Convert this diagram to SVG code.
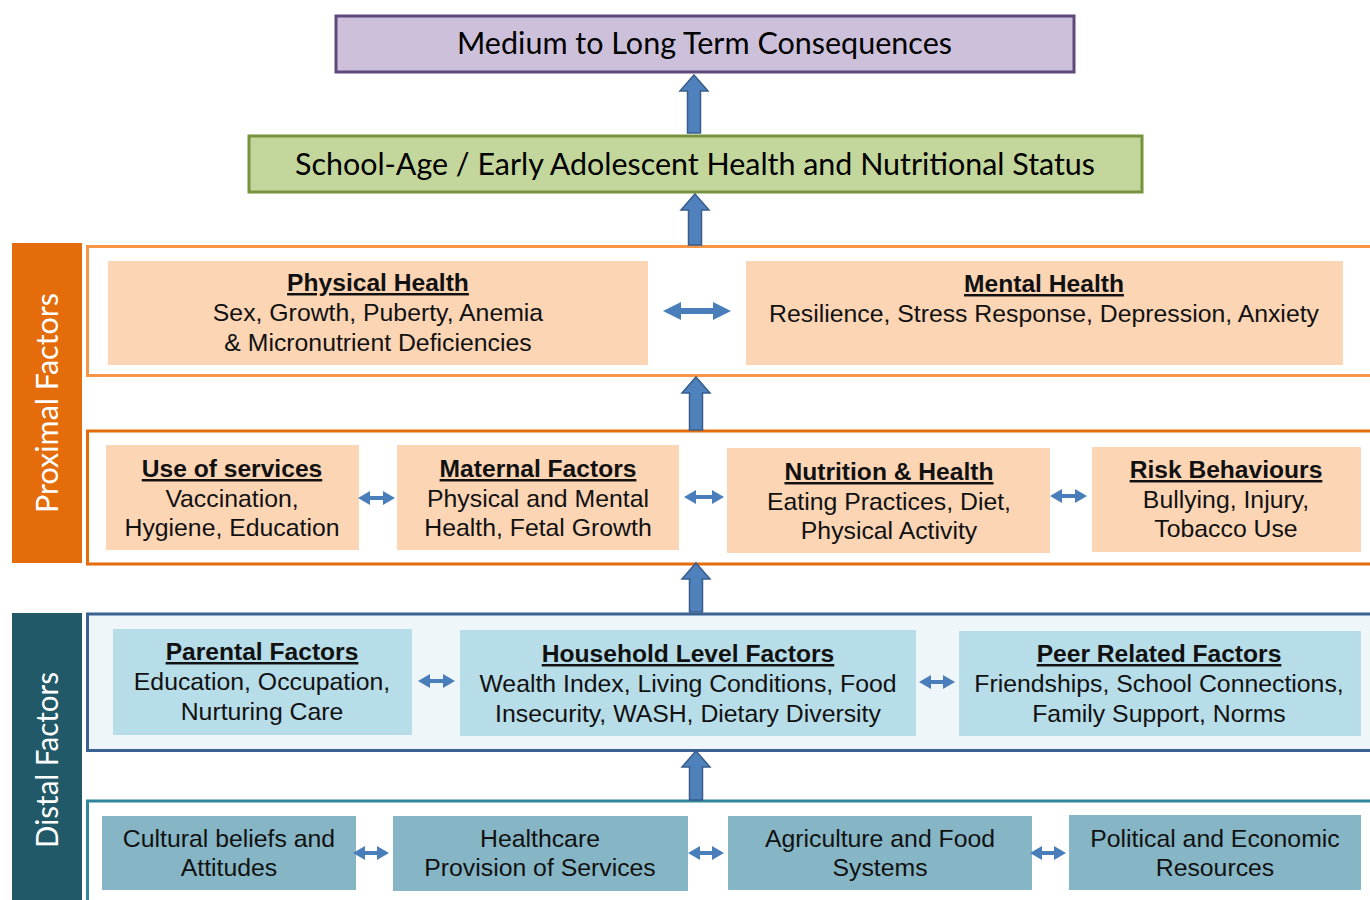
<svg xmlns="http://www.w3.org/2000/svg" width="1370" height="900" viewBox="0 0 1370 900">
<defs>
<style>
.cal{font-family:Lato,"Open Sans","Liberation Sans",sans-serif;font-size:31px;fill:#000;text-anchor:middle}
.side{font-family:Lato,"Open Sans","Liberation Sans",sans-serif;font-size:31px;fill:#fff;text-anchor:middle}
.t{font-family:"Liberation Sans",Arial,sans-serif;font-size:24.8px;fill:#111;text-anchor:middle}
.h{font-family:"Liberation Sans",Arial,sans-serif;font-size:24.6px;font-weight:bold;fill:#111;text-anchor:middle;text-decoration:underline}
.peach{fill:#fcd5b5}
.lblue{fill:#b7dde8}
.teal{fill:#86b6c5}
.up{fill:#4f81bd;stroke:#385d8a;stroke-width:1.5}
.dbl{fill:#4a7ebb}
</style>
</defs>
<rect width="1370" height="900" fill="#ffffff"/>

<!-- side bars -->
<g id="proximal-label">
<rect x="12" y="243" width="70" height="320" fill="#e46c0a"/>
<text class="side" transform="translate(58,403) rotate(-90)" textLength="220" lengthAdjust="spacingAndGlyphs">Proximal Factors</text>
</g>
<g id="distal-label">
<rect x="12" y="613" width="70" height="300" fill="#215968"/>
<text class="side" transform="translate(58,760) rotate(-90)" textLength="176" lengthAdjust="spacingAndGlyphs">Distal Factors</text>
</g>

<!-- top nodes -->
<g id="consequences">
<rect x="336" y="16" width="738" height="56" fill="#ccc0da" stroke="#5f497a" stroke-width="3"/>
<text class="cal" x="704.5" y="54" textLength="495" lengthAdjust="spacingAndGlyphs">Medium to Long Term Consequences</text>
</g>
<g id="status">
<rect x="249" y="136" width="893" height="56" fill="#c3d69b" stroke="#77933c" stroke-width="3"/>
<text class="cal" x="695" y="175" textLength="800" lengthAdjust="spacingAndGlyphs">School-Age / Early Adolescent Health and Nutritional Status</text>
</g>

<!-- group containers -->
<g id="proximal-top">
<rect x="87.5" y="246.5" width="1300" height="129" fill="#ffffff" stroke="#f79646" stroke-width="3"/>
</g>
<g id="proximal-bottom">
<rect x="87.5" y="431" width="1300" height="133" fill="#ffffff" stroke="#e46c0a" stroke-width="3"/>
</g>
<g id="distal-top">
<rect x="87.5" y="614" width="1300" height="136.5" fill="#eef6f9" stroke="#3b6292" stroke-width="3"/>
</g>
<g id="distal-bottom">
<rect x="87.5" y="801" width="1300" height="130" fill="#ffffff" stroke="#31859c" stroke-width="3"/>
</g>

<!-- proximal top nodes -->
<g id="physical-health">
<rect class="peach" x="108" y="261" width="540" height="104"/>
<text class="h" x="378" y="291">Physical Health</text>
<text class="t" x="378" y="321">Sex, Growth, Puberty, Anemia</text>
<text class="t" x="378" y="351">&amp; Micronutrient Deficiencies</text>
</g>
<g id="mental-health">
<rect class="peach" x="746" y="261" width="597" height="104"/>
<text class="h" x="1044" y="292">Mental Health</text>
<text class="t" x="1044" y="322">Resilience, Stress Response, Depression, Anxiety</text>
</g>

<!-- proximal bottom nodes -->
<g id="use-of-services">
<rect class="peach" x="106" y="445" width="253" height="105"/>
<text class="h" x="232" y="477">Use of services</text>
<text class="t" x="232" y="507">Vaccination,</text>
<text class="t" x="232" y="536">Hygiene, Education</text>
</g>
<g id="maternal-factors">
<rect class="peach" x="397" y="445" width="282" height="105"/>
<text class="h" x="538" y="477">Maternal Factors</text>
<text class="t" x="538" y="507">Physical and Mental</text>
<text class="t" x="538" y="536">Health, Fetal Growth</text>
</g>
<g id="nutrition-health">
<rect class="peach" x="727" y="448" width="323" height="105"/>
<text class="h" x="889" y="480">Nutrition &amp; Health</text>
<text class="t" x="889" y="510">Eating Practices, Diet,</text>
<text class="t" x="889" y="539">Physical Activity</text>
</g>
<g id="risk-behaviours">
<rect class="peach" x="1092" y="447" width="269" height="105"/>
<text class="h" x="1226" y="478">Risk Behaviours</text>
<text class="t" x="1226" y="508">Bullying, Injury,</text>
<text class="t" x="1226" y="537">Tobacco Use</text>
</g>

<!-- distal top nodes -->
<g id="parental-factors">
<rect class="lblue" x="113" y="629" width="299" height="106"/>
<text class="h" x="262" y="660">Parental Factors</text>
<text class="t" x="262" y="690">Education, Occupation,</text>
<text class="t" x="262" y="720">Nurturing Care</text>
</g>
<g id="household-factors">
<rect class="lblue" x="460" y="630" width="456" height="106"/>
<text class="h" x="688" y="662">Household Level Factors</text>
<text class="t" x="688" y="692">Wealth Index, Living Conditions, Food</text>
<text class="t" x="688" y="722">Insecurity, WASH, Dietary Diversity</text>
</g>
<g id="peer-factors">
<rect class="lblue" x="959" y="631" width="402" height="105"/>
<text class="h" x="1159" y="662">Peer Related Factors</text>
<text class="t" x="1159" y="692">Friendships, School Connections,</text>
<text class="t" x="1159" y="722">Family Support, Norms</text>
</g>

<!-- distal bottom nodes -->
<g id="cultural-beliefs">
<rect class="teal" x="102" y="816" width="254" height="74"/>
<text class="t" x="229" y="847">Cultural beliefs and</text>
<text class="t" x="229" y="876">Attitudes</text>
</g>
<g id="healthcare">
<rect class="teal" x="393" y="816" width="295" height="75"/>
<text class="t" x="540" y="847">Healthcare</text>
<text class="t" x="540" y="876">Provision of Services</text>
</g>
<g id="agriculture">
<rect class="teal" x="728" y="816" width="304" height="74"/>
<text class="t" x="880" y="847">Agriculture and Food</text>
<text class="t" x="880" y="876">Systems</text>
</g>
<g id="political">
<rect class="teal" x="1069" y="815" width="292" height="75"/>
<text class="t" x="1215" y="847">Political and Economic</text>
<text class="t" x="1215" y="876">Resources</text>
</g>

<!-- connectors -->
<g id="connectors">
<path class="up" d="M694,75 L708,91 L700.5,91 L700.5,133 L687.5,133 L687.5,91 L680,91 Z"/>
<path class="up" d="M695,194 L709,210 L701.5,210 L701.5,245 L688.5,245 L688.5,210 L681,210 Z"/>
<path class="up" d="M696,377 L710,393 L702.5,393 L702.5,430 L689.5,430 L689.5,393 L682,393 Z"/>
<path class="up" d="M696,563 L710,579 L702.5,579 L702.5,612 L689.5,612 L689.5,579 L682,579 Z"/>
<path class="up" d="M696,751 L710,767 L702.5,767 L702.5,800 L689.5,800 L689.5,767 L682,767 Z"/>

<path class="dbl" d="M663,311 L681,302 L681,308 L713,308 L713,302 L731,311 L713,320 L713,314 L681,314 L681,320 Z"/>

<path class="dbl" d="M358,498 L370,491 L370,496 L383,496 L383,491 L395,498 L383,505 L383,500 L370,500 L370,505 Z"/>
<path class="dbl" d="M684,497 L696,490 L696,495 L712,495 L712,490 L724,497 L712,504 L712,499 L696,499 L696,504 Z"/>
<path class="dbl" d="M1050,496 L1062,489 L1062,494 L1075,494 L1075,489 L1087,496 L1075,503 L1075,498 L1062,498 L1062,503 Z"/>

<path class="dbl" d="M418,681 L430,674 L430,679 L443,679 L443,674 L455,681 L443,688 L443,683 L430,683 L430,688 Z"/>
<path class="dbl" d="M919,682 L931,675 L931,680 L943,680 L943,675 L955,682 L943,689 L943,684 L931,684 L931,689 Z"/>

<path class="dbl" d="M353,853 L365,846 L365,851 L377,851 L377,846 L389,853 L377,860 L377,855 L365,855 L365,860 Z"/>
<path class="dbl" d="M688,853 L700,846 L700,851 L712,851 L712,846 L724,853 L712,860 L712,855 L700,855 L700,860 Z"/>
<path class="dbl" d="M1030,853 L1042,846 L1042,851 L1054,851 L1054,846 L1066,853 L1054,860 L1054,855 L1042,855 L1042,860 Z"/>
</g>
</svg>
